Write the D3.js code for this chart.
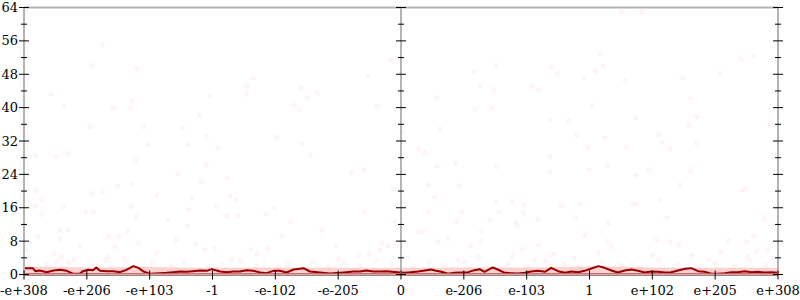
<html>
<head>
  <script src="https://d3js.org/d3.v7.min.js"></script>
  <style>
    body { margin: 0; background: #fff; }
    text { font-family: "DejaVu Serif", "Liberation Serif", serif; font-size: 13px; fill: #000; }
  </style>
</head>
<body>
<div id="vis"></div>
<script>
  // tick labels along x, one per integer position 0..12
  var tickLabels = ["-e+308", "-e+206", "-e+103", "-1", "-e-102", "-e-205", "0",
                    "e-206", "e-103", "1", "e+102", "e+205", "e+308"];
  var yMajor = [0, 8, 16, 24, 32, 40, 48, 56, 64];
  var yMinor = [4, 12, 20, 28, 36, 44, 52, 60];

  // faint scatter samples (x in tick index units, y value)
  var ptX = [1.24, 1.08, 1.79, 0.43, 0.63, 1.42, 1.72, 1.70, 1.05, 1.90, 2.52, 2.79, 2.96, 2.90, 3.54, 3.55, 3.65,
             4.03, 4.30, 4.38, 4.41, 4.50, 4.67, 5.48, 5.62, 5.83, 6.01, 0.03, 0.03,
             1.98, 2.62, 4.42, 0.18, 0.51, 0.70, 1.78, 3.08, 4.55, 2.90, 2.45, 2.82, 3.23, 5.21, 5.41, 1.49, 1.73,
             0.20, 1.08, 1.25, 2.11, 2.68, 3.28, 3.38, 5.88, 0.28, 0.17, 0.62, 0.98, 1.10, 1.70, 2.63, 3.07, 3.86,
             3.99, 5.42, 0.28, 1.79, 2.29, 3.23, 3.40, 2.60, 4.24, 5.90, 0.57, 0.70, 1.65, 4.74, 0.22, 1.35, 1.50,
             0.57, 4.10, 2.43, 1.82, 0.90, 1.44, 2.73, 5.69, 5.79, 4.97, 0.03, 2.11, 3.03, 3.61, 3.89, 3.71, 5.67,
             0.48, 0.60, 1.34, 2.88, 5.32, 5.50, 0.08,
             9.51, 9.84, 9.17, 11.62, 11.41, 7.51, 8.40, 9.22, 9.09, 7.17, 8.49, 8.91, 11.08, 10.48, 9.57, 7.26,
             8.08, 8.19, 7.48, 6.57, 10.61, 9.05, 7.18, 7.45, 9.73, 10.71, 8.37, 8.67, 10.58, 11.87, 6.62, 8.80,
             9.25, 10.10,
             8.98, 9.59, 10.15, 10.70, 6.28, 6.38, 10.28, 8.37, 6.57, 6.87, 7.53, 9.28, 8.37, 9.00, 9.95, 9.75,
             10.61, 6.44, 6.92, 10.44, 11.43, 11.50, 6.54, 7.51, 7.76, 7.95, 8.55, 8.85, 9.69, 9.75, 10.13, 6.44,
             6.97, 7.56, 7.95, 6.89, 7.41, 7.83, 7.85, 8.18, 8.77, 9.30, 10.23, 11.78, 6.27, 6.35, 7.28, 8.92,
             6.76, 6.59, 7.28, 7.10, 8.19, 9.28, 9.35, 10.07, 10.28, 10.42, 11.22, 11.61, 11.50, 11.83, 11.66,
             6.10, 7.23, 7.77, 7.93, 8.12, 8.39, 8.45, 9.14, 10.01, 10.64, 11.09, 11.51,
             0.35, 0.52, 0.61, 0.72, 1.15, 1.30, 1.88, 2.05, 2.35, 2.55, 2.95, 3.15, 3.45, 3.70, 4.05, 4.20,
             4.60, 4.85, 5.10, 5.35, 5.60, 5.85, 6.20, 6.45, 6.70, 7.00, 7.40, 7.70, 8.00, 8.30, 8.60, 8.85,
             9.20, 9.50, 9.80, 10.10, 10.40, 10.75, 11.00, 11.30, 11.55, 11.80, 11.95, 0.80, 1.60, 3.30, 5.00,
             6.90, 8.75, 10.90];
  var ptY = [54.9, 50.1, 49.3, 43.3, 40.4, 39.8, 41.5, 39.9, 35.4, 35.4, 35.1, 38.2, 42.9, 33.1, 43.2, 45.2, 47.2,
             33.0, 40.5, 39.5, 44.7, 42.4, 43.4, 47.7, 40.4, 51.3, 34.0, 63.0, 33.0,
             31.2, 31.2, 31.4, 28.6, 28.2, 29.0, 27.4, 30.2, 28.6, 26.3, 24.1, 22.2, 23.1, 24.4, 25.0, 21.2, 21.7,
             20.1, 19.4, 19.8, 19.0, 18.3, 18.8, 17.9, 20.5, 18.0, 16.4, 16.3, 15.0, 15.0, 16.2, 15.5, 16.3, 14.5,
             15.9, 15.0, 14.4, 13.8, 13.1, 14.0, 14.0, 11.6, 12.6, 12.8, 10.6, 10.7, 10.4, 10.7, 8.9, 9.1, 9.1,
             8.5, 9.1, 8.3, 7.5, 6.7, 6.7, 7.3, 7.5, 6.9, 6.8, 5.9, 5.1, 6.2, 5.9, 6.1, 5.0, 5.8,
             5.0, 4.2, 4.2, 5.9, 4.6, 4.9, 4.0,
             63.0, 63.0, 52.9, 52.3, 51.7, 50.1, 49.7, 49.9, 48.8, 48.7, 48.1, 47.2, 48.2, 47.1, 46.4, 45.2,
             45.1, 44.2, 44.1, 42.4, 42.2, 40.5, 39.6, 40.0, 37.6, 37.8, 37.0, 36.9, 35.8, 36.1, 34.9, 33.4,
             32.7, 33.4,
             30.5, 30.6, 31.7, 31.4, 30.1, 29.3, 30.0, 28.2, 26.1, 26.7, 25.9, 26.0, 24.5, 25.0, 25.1, 23.8,
             24.8, 21.5, 21.3, 21.5, 20.3, 20.6, 18.6, 17.3, 17.5, 16.6, 16.5, 16.9, 17.0, 16.8, 17.9, 14.9,
             15.0, 15.0, 14.7, 12.7, 13.2, 12.8, 11.8, 13.4, 13.6, 12.3, 13.5, 13.4, 10.2, 10.3, 10.4, 9.4,
             8.7, 7.8, 7.9, 6.9, 7.1, 7.9, 6.7, 8.3, 7.8, 7.1, 8.1, 9.2, 7.8, 6.0, 5.6,
             3.9, 4.2, 4.3, 6.0, 3.6, 4.7, 4.9, 5.1, 4.6, 4.6, 5.5, 4.3,
             2.5, 3.1, 1.8, 2.9, 2.2, 3.4, 1.6, 2.8, 2.1, 3.0, 1.9, 2.6, 3.2, 2.0, 1.7, 2.4,
             3.0, 1.8, 2.7, 2.2, 3.3, 2.5, 1.9, 2.8, 2.3, 3.1, 1.7, 2.6, 2.0, 3.0, 2.4, 1.8,
             2.9, 2.2, 1.6, 3.2, 2.5, 2.0, 2.7, 1.9, 3.3, 2.3, 2.6, 3.6, 3.8, 3.5, 3.7,
             3.4, 3.9, 3.6];

  // running mean line
  var lineX = [0, 0.14, 0.18, 0.25, 0.36, 0.47, 0.57, 0.68, 0.79, 0.89, 0.94, 1.02, 1.10, 1.15, 1.21, 1.32, 1.42,
               1.53, 1.63, 1.74, 1.82, 1.90, 2.01, 2.16, 2.27, 2.38, 2.48, 2.59, 2.69, 2.80, 2.91, 2.99, 3.12,
               3.23, 3.33, 3.44, 3.54, 3.65, 3.76, 3.86, 3.97, 4.07, 4.18, 4.29, 4.45, 4.55, 4.71, 4.87, 5.03,
               5.14, 5.24, 5.35, 5.45, 5.56, 5.67, 5.77, 5.98,
               6.06, 6.16, 6.27, 6.38, 6.48, 6.54, 6.64, 6.75, 6.85, 6.96, 7.07, 7.17, 7.25, 7.33, 7.46, 7.54,
               7.65, 7.76, 7.86, 7.97, 8.07, 8.18, 8.29, 8.39, 8.50, 8.61, 8.71, 8.82, 8.92, 9.03, 9.14, 9.24,
               9.35, 9.45, 9.56, 9.67, 9.77, 9.88, 9.98, 10.09, 10.20, 10.30, 10.41, 10.52, 10.62, 10.73, 10.83,
               10.94, 11.05, 11.15, 11.26, 11.36, 11.47, 11.58, 11.68, 11.79, 11.89, 12.0];
  var lineY = [1.52, 1.52, 0.8, 0.96, 0.56, 0.96, 1.12, 0.88, 0.16, 0.24, 0.8, 1.12, 1.04, 1.68, 0.88, 0.8, 0.8,
               0.56, 1.12, 2.0, 1.6, 0.72, 0.16, 0.32, 0.4, 0.56, 0.72, 0.64, 0.8, 0.96, 0.88, 1.28, 0.72,
               0.56, 0.72, 0.72, 1.04, 0.88, 0.48, 0.32, 0.88, 0.88, 0.48, 1.2, 1.52, 0.72, 0.48, 0.24, 0.4,
               0.56, 0.72, 0.72, 0.96, 0.72, 0.72, 0.8, 0.5,
               0.4, 0.56, 0.72, 0.96, 1.2, 0.96, 0.64, 0.16, 0.4, 0.48, 0.56, 1.04, 1.28, 0.64, 1.68, 1.2,
               0.4, 0.32, 0.24, 0.4, 0.72, 0.88, 0.64, 1.6, 0.8, 0.4, 0.72, 0.56, 0.88, 1.44, 2.0, 1.6,
               0.96, 0.48, 0.96, 1.2, 0.88, 0.48, 0.72, 0.64, 0.48, 0.56, 0.96, 1.36, 1.52, 0.8, 0.64,
               0.16, 0.16, 0.32, 0.56, 0.56, 0.8, 0.56, 0.64, 0.48, 0.56, 0.4];

  // light band under the line
  var bandX = [0, 1, 2, 3, 4, 5, 6, 7, 8, 9, 10, 11, 12];
  var bandHi = [1.9, 1.7, 1.8, 1.6, 1.7, 1.6, 1.6, 1.7, 1.7, 1.9, 1.7, 1.6, 1.6];

  function draw() {
    var W = 800, H = 300;
    var plotLeft = 24, plotRight = 778, plotTop = 7.5, plotBottom = 274.5;

    var x = d3.scaleLinear().domain([0, 12]).range([plotLeft, plotRight]);
    var y = d3.scaleLinear().domain([0, 64]).range([plotBottom, plotTop]);

    var svg = d3.select("#vis").append("svg")
        .attr("width", W)
        .attr("height", H);

    var plot = svg.append("g");

    // scatter
    plot.selectAll("circle.pt")
        .data(d3.range(ptX.length))
        .enter()
        .append("circle")
        .attr("class", "pt")
        .attr("cx", function(i) { return x(ptX[i]); })
        .attr("cy", function(i) { return y(ptY[i]); })
        .attr("r", 2.2)
        .attr("fill", "rgba(255,0,0,0.03)")
        .attr("stroke", "rgba(255,0,0,0.04)")
        .attr("stroke-width", 1);

    // band
    var band = d3.area()
        .x(function(i) { return x(bandX[i]); })
        .y0(y(0))
        .y1(function(i) { return y(bandHi[i]); })
        .curve(d3.curveMonotoneX);
    plot.append("path")
        .datum(d3.range(bandX.length))
        .attr("d", band)
        .attr("fill", "rgba(255,50,50,0.22)");

    // axis frame
    var gray = "#b4b4b4";
    svg.append("line").attr("x1", plotLeft).attr("x2", plotRight).attr("y1", plotTop).attr("y2", plotTop)
        .attr("stroke", gray).attr("stroke-width", 2);
    svg.append("line").attr("x1", plotLeft).attr("x2", plotRight).attr("y1", plotBottom).attr("y2", plotBottom)
        .attr("stroke", gray).attr("stroke-width", 2);
    [0, 6, 12].forEach(function(v) {
      svg.append("line").attr("x1", x(v)).attr("x2", x(v)).attr("y1", plotTop).attr("y2", plotBottom + 1)
          .attr("stroke", gray).attr("stroke-width", 2);
    });

    // zero line
    plot.append("line")
        .attr("x1", x(0)).attr("x2", x(12))
        .attr("y1", y(0)).attr("y2", y(0))
        .attr("stroke", "#dd2b2b")
        .attr("stroke-width", 3);

    // mean line
    var line = d3.line()
        .x(function(i) { return x(lineX[i]); })
        .y(function(i) { return y(lineY[i]); });
    plot.append("path")
        .datum(d3.range(lineX.length))
        .attr("d", line)
        .attr("fill", "none")
        .attr("stroke", "#990000")
        .attr("stroke-width", 2)
        .attr("stroke-linejoin", "round");

    // y ticks on each vertical axis
    [0, 6, 12].forEach(function(v) {
      var ax = x(v);
      svg.selectAll(null).data(yMajor).enter().append("line")
          .attr("x1", ax - 5).attr("x2", ax + 5)
          .attr("y1", function(d) { return y(d); })
          .attr("y2", function(d) { return y(d); })
          .attr("stroke", "#000").attr("stroke-width", 1);
      svg.selectAll(null).data(yMinor).enter().append("line")
          .attr("x1", ax - 3).attr("x2", ax + 3)
          .attr("y1", function(d) { return y(d); })
          .attr("y2", function(d) { return y(d); })
          .attr("stroke", "#000").attr("stroke-width", 1);
    });

    svg.selectAll("text.ylab")
        .data(yMajor)
        .enter()
        .append("text")
        .attr("class", "ylab")
        .attr("x", plotLeft - 6)
        .attr("y", function(d) { return y(d); })
        .attr("dy", "0.35em")
        .attr("text-anchor", "end")
        .text(function(d) { return d; });

    // x ticks and labels
    svg.selectAll("line.xt")
        .data(tickLabels)
        .enter()
        .append("line")
        .attr("class", "xt")
        .attr("x1", function(d, i) { return x(i); })
        .attr("x2", function(d, i) { return x(i); })
        .attr("y1", plotBottom - 4)
        .attr("y2", plotBottom + 5)
        .attr("stroke", "#000").attr("stroke-width", 1);

    svg.selectAll("text.xlab")
        .data(tickLabels)
        .enter()
        .append("text")
        .attr("class", "xlab")
        .attr("x", function(d, i) { return x(i); })
        .attr("y", 295)
        .attr("text-anchor", "middle")
        .text(function(d) { return d; });
  }

  draw();
</script>
</body>
</html>
